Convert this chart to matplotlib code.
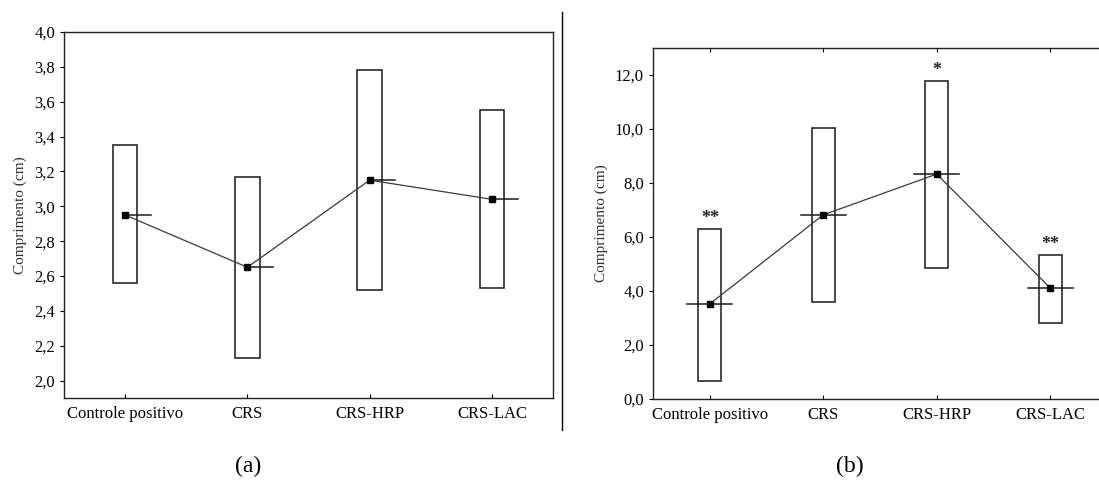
import matplotlib
matplotlib.use('Agg')
import matplotlib.pyplot as plt
from matplotlib.patches import Rectangle
from matplotlib.ticker import FuncFormatter, MultipleLocator
from matplotlib.lines import Line2D

plt.rcParams['font.family'] = ['Liberation Serif', 'DejaVu Serif']

# Categories shared by both panels
groups = ['Controle positivo', 'CRS', 'CRS-HRP', 'CRS-LAC']

# Panel (a): mean and box limits
mean_a = [2.95, 2.65, 3.15, 3.04]
low_a = [2.56, 2.13, 2.52, 2.53]
high_a = [3.35, 3.17, 3.78, 3.55]

# Panel (b): mean and box limits, significance marks
mean_b = [3.52, 6.82, 8.33, 4.11]
low_b = [0.68, 3.61, 4.87, 2.81]
high_b = [6.31, 10.03, 11.79, 5.34]
stars_b = ['**', '', '*', '**']

W, H = 1099, 482
fig = plt.figure(figsize=(W / 100, H / 100), dpi=100)


def px_axes(x0, y0, x1, y1):
    # pixel box (left, top, right, bottom) -> figure fraction axes
    return fig.add_axes([x0 / W, 1 - y1 / H, (x1 - x0) / W, (y1 - y0) / H])


comma = FuncFormatter(lambda v, p: f'{v:.1f}'.replace('.', ','))


def draw_panel(ax, means, lows, highs, both_sides):
    xs = list(range(len(groups)))
    bw = 0.2
    for x, lo, hi, m in zip(xs, lows, highs, means):
        ax.add_patch(Rectangle((x - bw / 2, lo), bw, hi - lo, fill=False,
                               edgecolor='#2a2a2a', lw=1.2, zorder=2))
        if both_sides:
            ax.plot([x - 0.2, x + 0.2], [m, m], color='#1a1a1a', lw=1.1, zorder=3)
        else:
            ax.plot([x, x + 0.21], [m, m], color='#1a1a1a', lw=1.1, zorder=3)
    ax.plot(xs, means, color='#3a3a3a', lw=0.9, marker='s', ms=5,
            mfc='black', mec='black', zorder=4)
    ax.set_xlim(-0.5, 3.5)
    ax.set_xticks(xs)
    ax.set_xticklabels(groups, fontsize=12)
    ax.yaxis.set_major_formatter(comma)
    ax.tick_params(axis='y', labelsize=12, direction='out', length=3, width=0.8)
    ax.tick_params(axis='x', direction='in', length=3, width=0.8, pad=6)
    ax.set_ylabel('Comprimento (cm)', fontsize=11, color='#3a2e28', labelpad=5)
    for s in ax.spines.values():
        s.set_linewidth(1.0)
        s.set_color('#222222')


# Panel (a)
ax1 = px_axes(64, 32, 553, 398)
draw_panel(ax1, mean_a, low_a, high_a, both_sides=False)
ax1.set_ylim(1.9, 4.0)
ax1.yaxis.set_major_locator(MultipleLocator(0.2))

# Panel (b) - right edge runs off the image
ax2 = px_axes(653, 48, 1107, 399)
draw_panel(ax2, mean_b, low_b, high_b, both_sides=True)
ax2.set_ylim(0, 13)
ax2.yaxis.set_major_locator(MultipleLocator(2))
ax2.tick_params(axis='x', top=True)
for x, hi, s in zip(range(len(groups)), high_b, stars_b):
    if s:
        ax2.text(x, hi + 0.05, s, ha='center', va='bottom', fontsize=13,
                 fontweight='bold', color='#222222')

# divider and panel letters
fig.add_artist(Line2D([562 / W, 562 / W], [1 - 12 / H, 1 - 430 / H],
                      transform=fig.transFigure, color='black', lw=1))
fig.text(248 / W, 1 - 466 / H, '(a)', ha='center', va='center', fontsize=17)
fig.text(850 / W, 1 - 466 / H, '(b)', ha='center', va='center', fontsize=17)

fig.savefig('out.png', dpi=100)
